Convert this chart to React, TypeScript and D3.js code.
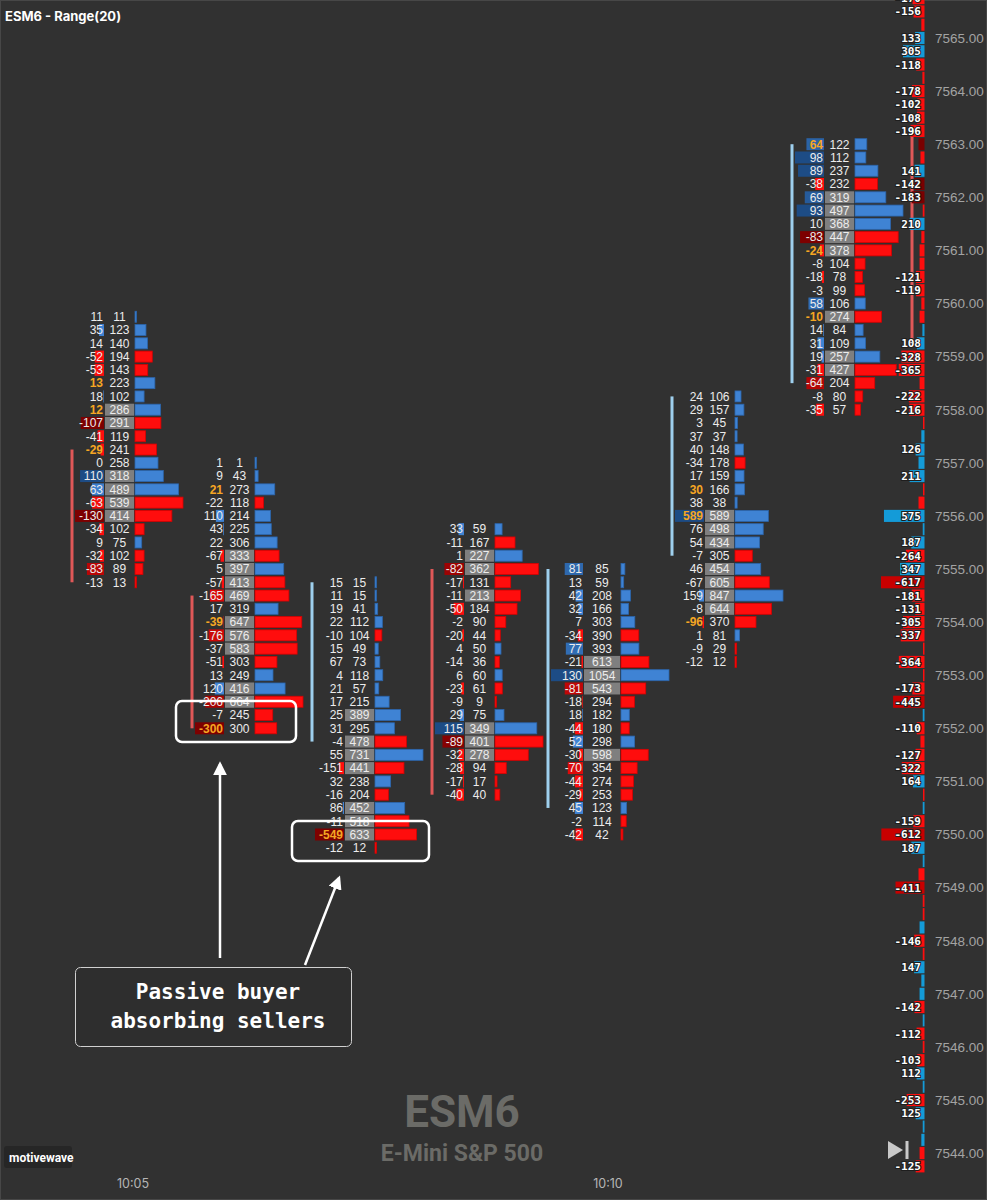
import React from "react";
import * as d3 from "d3";

// ---------- DATA ----------
const priceLabels = [
  "7565.00", "7564.00", "7563.00", "7562.00", "7561.00", "7560.00", "7559.00", "7558.00",
  "7557.00", "7556.00", "7555.00", "7554.00", "7553.00", "7552.00", "7551.00", "7550.00",
  "7549.00", "7548.00", "7547.00", "7546.00", "7545.00", "7544.00",
];
const tickSize = 0.25;
const timeLabels = ["10:05", "10:10"];
const timeLabelBar = [0, 4];

// top price of each footprint bar (rows go down one tick each)
const barTopPrice = [7559.75, 7557.0, 7554.75, 7555.75, 7555.0, 7558.25, 7563.0];

const delta1 = [11, 35, 14, -52, -53, 13, 18, 12, -107, -41, -29, 0, 110, 63, -63, -130, -34, 9, -32, -83, -13];
const volume1 = [11, 123, 140, 194, 143, 223, 102, 286, 291, 119, 241, 258, 318, 489, 539, 414, 102, 75, 102, 89, 13];
const hot1 = [5, 7, 10];

const delta2 = [1, 9, 21, -22, 110, 43, 22, -67, 5, -57, -165, 17, -39, -176, -37, -51, 13, 120, -206, -7, -300];
const volume2 = [1, 43, 273, 118, 214, 225, 306, 333, 397, 413, 469, 319, 647, 576, 583, 303, 249, 416, 664, 245, 300];
const hot2 = [2, 12, 20];

const delta3 = [15, 11, 19, 22, -10, 15, 67, 4, 21, 17, 25, 31, -4, 55, -151, 32, -16, 86, -11, -549, -12];
const volume3 = [15, 15, 41, 112, 104, 49, 73, 118, 57, 215, 389, 295, 478, 731, 441, 238, 204, 452, 518, 633, 12];
const hot3 = [19];

const delta4 = [33, -11, 1, -82, -17, -11, -50, -2, -20, 4, -14, 6, -23, -9, 29, 115, -89, -32, -28, -17, -40];
const volume4 = [59, 167, 227, 362, 131, 213, 184, 90, 44, 50, 36, 60, 61, 9, 75, 349, 401, 278, 94, 17, 40];
const hot4: number[] = [];

const delta5 = [81, 13, 42, 32, 7, -34, 77, -21, 130, -81, -18, 18, -44, 52, -30, -70, -44, -29, 45, -2, -42];
const volume5 = [85, 59, 208, 166, 303, 390, 393, 613, 1054, 543, 294, 182, 180, 298, 598, 354, 274, 253, 123, 114, 42];
const hot5: number[] = [];

const delta6 = [24, 29, 3, 37, 40, -34, 17, 30, 38, 589, 76, 54, -7, 46, -67, 159, -8, -96, 1, -9, -12];
const volume6 = [106, 157, 45, 37, 148, 178, 159, 166, 38, 589, 498, 434, 305, 454, 605, 847, 644, 370, 81, 29, 12];
const hot6 = [7, 9, 17];

const delta7 = [64, 98, 89, -38, 69, 93, 10, -83, -24, -8, -18, -3, 58, -10, 14, 31, 19, -31, -64, -8, -35];
const volume7 = [122, 112, 237, 232, 319, 497, 368, 447, 378, 104, 78, 99, 106, 274, 84, 109, 257, 427, 204, 80, 57];
const hot7 = [0, 8, 13];

// open / close of each bar (8th = current bar)
const barOpen = [7557.25, 7554.5, 7551.75, 7555.0, 7550.5, 7555.25, 7558.5, 7563.25];
const barClose = [7554.75, 7552.0, 7554.75, 7550.75, 7555.0, 7558.25, 7563.0, 7559.25];

// right-hand depth / delta ladder
const ladderTop = 7565.75;
const ladderValues = [
  -170, -156, -45, 133, 305, -118, -30, -178, -102, -108, -196, -85, -57, 141, -142, -183,
  -25, 210, -45, -70, -70, -121, -119, -45, -70, 30, 108, -328, -365, -70, -222, -216,
  -15, 45, 126, 85, 211, -15, -85, 575, 25, 187, -264, 347, -617, -181, -131, -305,
  -337, -15, -364, -15, -173, -445, 25, -110, -57, -127, -322, 164, -15, 25, -159, -612,
  187, 25, -85, -411, -25, -25, 70, -146, -25, 147, 45, 70, -142, 25, -112, -25,
  -103, 112, 25, -253, 125, 25, 45, -70, -125,
];
const ladderDarkPrices = [7563.0, 7562.25, 7562.0];

const columns = [
  { delta: delta1, vol: volume1, hot: hot1 },
  { delta: delta2, vol: volume2, hot: hot2 },
  { delta: delta3, vol: volume3, hot: hot3 },
  { delta: delta4, vol: volume4, hot: hot4 },
  { delta: delta5, vol: volume5, hot: hot5 },
  { delta: delta6, vol: volume6, hot: hot6 },
  { delta: delta7, vol: volume7, hot: hot7 },
];

// ---------- STYLE ----------
const W = 987;
const H = 1200;
const BG = "#313131";
const BLUE = "#3f83d4";
const BLUE_DARK = "#1d4c85";
const RED = "#ff0d0d";
const RED_DARK = "#7d0000";
const ORANGE = "#f5a623";
const NUM_FONT = "'Liberation Sans', Arial, sans-serif";
const MONO = "'DejaVu Sans Mono', monospace";

export default function App() {
  const y = d3.scaleLinear().domain([7565, 7544]).range([38, 1153.1]);
  const rh = Math.abs(y(7564.75) - y(7565));
  const xBar = d3.scaleLinear().domain([0, 1]).range([105, 225]);
  const cellH = 12;

  const colLayout = (i: number, vol: number[]) => {
    const wide = (d3.max(vol) as number) >= 1000;
    const x0 = xBar(i) - (wide ? 1 : 0);
    const vw = wide ? 36 : 29;
    const dw = wide ? 32 : 29;
    return { x0, vw, dw, wide };
  };

  const deltaFill = (d: number, r: number) => {
    const t = Math.max(0, Math.min(1, (r - 0.45) / 0.35));
    return d >= 0 ? d3.interpolateRgb(BLUE, BLUE_DARK)(t) : d3.interpolateRgb(RED, RED_DARK)(t);
  };

  const ladderW = d3.scaleLinear().domain([0, 617]).range([0, 43.5]);
  const ladderRight = 924.5;

  return (
    <svg
      width={W}
      height={H}
      style={{ position: "absolute", left: 0, top: 0, display: "block" }}
      xmlns="http://www.w3.org/2000/svg"
    >
      <defs>
        <marker id="ah" viewBox="0 0 10 10" refX="8" refY="5" markerWidth="5.5" markerHeight="5.5" orient="auto-start-reverse">
          <path d="M0,0 L10,5 L0,10 z" fill="#ffffff" />
        </marker>
      </defs>
      <rect x={0} y={0} width={W} height={H} fill={BG} />
      <rect x={0.5} y={0.5} width={W - 1} height={H - 1} fill="none" stroke="#474747" />

      {/* title */}
      <text x={5} y={21} fill="#ffffff" fontFamily="Inter, Roboto, sans-serif" fontWeight={700} fontSize={13}>
        ESM6 - Range(20)
      </text>

      {/* watermark */}
      <text x={462} y={1127} textAnchor="middle" fill="#6b6b67" fontFamily="Roboto, Inter, sans-serif" fontWeight={700} fontSize={44}>
        ESM6
      </text>
      <text x={462} y={1161} textAnchor="middle" fill="#6b6b67" fontFamily="Roboto, Inter, sans-serif" fontWeight={700} fontSize={23}>
        E-Mini S&amp;P 500
      </text>

      {/* body lines */}
      {barOpen.map((o, i) => {
        const c = barClose[i];
        const dw = i < columns.length ? colLayout(i, columns[i].vol).dw : 29;
        const x0 = i < columns.length ? colLayout(i, columns[i].vol).x0 : xBar(i);
        const x = x0 - dw - 4;
        return (
          <line
            key={"body" + i}
            x1={x}
            x2={x}
            y1={y(o)}
            y2={y(c)}
            stroke={c < o ? "#e05858" : "#9fd0ee"}
            strokeWidth={3}
          />
        );
      })}

      {/* footprint columns */}
      {columns.map((col, i) => {
        const { x0, vw, dw } = colLayout(i, col.vol);
        const maxVol = d3.max(col.vol) as number;
        const maxAbs = d3.max(col.delta, (d) => Math.abs(d)) as number;
        const vScale = d3.scaleLinear().domain([0, maxVol]).range([0, 48]);
        const dScale = d3.scaleLinear().domain([0.12 * maxAbs, maxAbs]).range([0, dw]).clamp(true);
        return (
          <g key={"col" + i}>
            {col.delta.map((d, k) => {
              const p = barTopPrice[i] - k * tickSize;
              const yc = y(p);
              const v = col.vol[k];
              const dwid = dScale(Math.abs(d));
              const gray = v >= 0.5 * maxVol;
              const bw = vScale(v);
              return (
                <g key={k}>
                  {dwid > 0.3 && (
                    <rect x={x0 - 1 - dwid} y={yc - cellH / 2} width={dwid} height={cellH} fill={deltaFill(d, Math.abs(d) / maxAbs)} />
                  )}
                  {gray && <rect x={x0} y={yc - cellH / 2} width={vw} height={cellH} fill="#7f7f7f" />}
                  <rect
                    x={x0 + vw + 1}
                    y={yc - cellH / 2 + 0.5}
                    width={Math.max(1.5, bw)}
                    height={cellH - 1}
                    fill={d >= 0 ? BLUE : RED}
                    stroke={d >= 0 ? "#2c66ad" : "#d80000"}
                    strokeWidth={0.8}
                  />
                  <text
                    x={x0 - 2}
                    y={yc}
                    dy="0.36em"
                    textAnchor="end"
                    fontFamily={NUM_FONT}
                    fontSize={12}
                    fill={col.hot.includes(k) ? ORANGE : "#ececec"}
                    fontWeight={col.hot.includes(k) ? 700 : 400}
                  >
                    {d}
                  </text>
                  <text x={x0 + vw / 2} y={yc} dy="0.36em" textAnchor="middle" fontFamily={NUM_FONT} fontSize={12} fill="#ececec">
                    {v}
                  </text>
                </g>
              );
            })}
          </g>
        );
      })}

      {/* ladder */}
      {ladderValues.map((v, k) => {
        const p = ladderTop - k * tickSize;
        const yc = y(p);
        const w = Math.max(1.5, ladderW(Math.abs(v)));
        let fill = v > 0 ? "#149bd8" : "#ff0d0d";
        if (v < 0 && Math.abs(v) >= 400) fill = "#c80000";
        if (v < 0 && ladderDarkPrices.includes(p)) fill = "#7a0000";
        return (
          <g key={"l" + k}>
            <rect x={ladderRight - w} y={yc - rh / 2 + 0.6} width={w} height={rh - 1.2} fill={fill} />
            {Math.abs(v) >= 100 && (
              <text
                x={921}
                y={yc}
                dy="0.36em"
                textAnchor="end"
                fontFamily={MONO}
                fontWeight={700}
                fontSize={11}
                fill="#ffffff"
                stroke="#1e1e1e"
                strokeWidth={2}
                paintOrder="stroke"
              >
                {v}
              </text>
            )}
          </g>
        );
      })}

      {/* price axis */}
      {priceLabels.map((t) => (
        <text key={t} x={935} y={y(+t)} dy="0.36em" fontFamily={NUM_FONT} fontSize={13.5} fill="#a3a3a3">
          {t}
        </text>
      ))}

      {/* time axis */}
      {timeLabels.map((t, i) => {
        const L = colLayout(timeLabelBar[i], columns[timeLabelBar[i]].vol);
        return (
          <text
            key={t}
            x={L.x0 + (L.wide ? 24 : 28)}
            y={1188}
            textAnchor="middle"
            fontFamily="Inter, Roboto, sans-serif"
            fontSize={12.5}
            fill="#b5b5b5"
          >
            {t}
          </text>
        );
      })}

      {/* motivewave badge */}
      <rect x={4} y={1146} width={68} height={22} rx={3} fill="#262626" />
      <text x={9} y={1162} fontFamily="Roboto, Inter, sans-serif" fontWeight={700} fontSize={12} fill="#ffffff">
        motivewave
      </text>

      {/* play-to-end icon */}
      <path d="M888,1141 L888,1159 L903,1150 Z" fill="#c8c8c8" />
      <rect x={905.5} y={1141} width={3} height={18} fill="#c8c8c8" />

      {/* annotations */}
      <rect x={176} y={701} width={120} height={41} rx={6} fill="none" stroke="#ffffff" strokeWidth={2.5} />
      <rect x={292} y={821} width={137} height={40} rx={6} fill="none" stroke="#ffffff" strokeWidth={2.5} />
      <line x1={220} y1={958} x2={220} y2={764} stroke="#ffffff" strokeWidth={2.5} markerEnd="url(#ah)" />
      <line x1={305} y1={965} x2={339} y2={878} stroke="#ffffff" strokeWidth={2.5} markerEnd="url(#ah)" />
      <rect x={75.5} y={967.5} width={276} height={79} rx={5} fill="#2e2e2e" stroke="#d0d0d0" strokeWidth={1} />
      <text x={218} y={999} textAnchor="middle" fontFamily={MONO} fontWeight={700} fontSize={21} fill="#ffffff">
        Passive buyer
      </text>
      <text x={218} y={1028} textAnchor="middle" fontFamily={MONO} fontWeight={700} fontSize={21} fill="#ffffff">
        absorbing sellers
      </text>
    </svg>
  );
}
